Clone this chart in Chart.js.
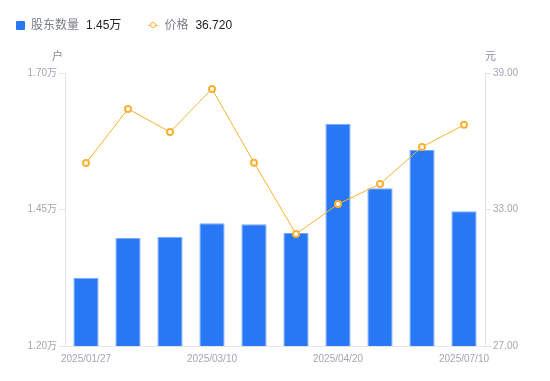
<!DOCTYPE html>
<html><head><meta charset="utf-8">
<script src="https://cdn.jsdelivr.net/npm/chart.js@4/dist/chart.umd.min.js"></script>
<style>
html,body{margin:0;padding:0;background:#fff;}
#wrap{position:relative;width:550px;height:381px;}
#legend{position:absolute;left:16px;top:17px;height:16px;font-family:"Liberation Sans","Noto Sans CJK SC",sans-serif;font-size:12px;line-height:16px;display:flex;align-items:center;white-space:nowrap;}
.item{display:flex;align-items:center;margin-right:27px;}
.sq{width:9px;height:9px;background:#2878f5;border-radius:1px;margin-right:6px;}
.ln{position:relative;width:10px;height:9px;margin-right:6px;}
.ln:before{content:"";position:absolute;left:0;right:0;top:4px;height:1px;background:#f8b133;}
.ln:after{content:"";position:absolute;left:1.5px;top:1px;width:4px;height:4px;border:1.5px solid #f8b133;border-radius:50%;background:#fff;}
.txt{display:inline-block;line-height:16px;}
.nm{color:#7b7e86;margin-right:7px;}
.vl{color:#222;}
</style></head>
<body><div id="wrap"><canvas id="c" width="550" height="381"></canvas>
<div id="legend"></div></div>
<script>
const categories = ["2025/01/27","2025/02/10","2025/02/24","2025/03/10","2025/03/20","2025/03/31","2025/04/20","2025/05/20","2025/06/20","2025/07/10"];
const shareholders = [1.325, 1.398, 1.400, 1.425, 1.423, 1.407, 1.607, 1.489, 1.559, 1.447];
const prices = [35.04, 37.42, 36.41, 38.30, 35.06, 31.92, 33.24, 34.12, 35.75, 36.72];
const shownTickIdx = [0, 3, 6, 9];
const leftTicks = [1.20, 1.45, 1.70];
const rightTicks = [27, 33, 39];

const FONT = '"Liberation Sans","Noto Sans CJK SC",sans-serif';
const TICK = '#a3a6b0';
const AXIS = '#e3e4e8';

document.getElementById('legend').innerHTML =
 '<div class="item"><div class="sq"></div><span class="txt"><span class="nm">股东数量</span><span class="vl">' + shareholders[shareholders.length-1].toFixed(2) + '万</span></span></div>' +
 '<div class="item"><div class="ln"></div><span class="txt"><span class="nm">价格</span><span class="vl">' + prices[prices.length-1].toFixed(3) + '</span></span></div>';

const unitPlugin = {
  id: 'units',
  afterDraw(chart) {
    const ctx = chart.ctx;
    const y = chart.scales.y, y1 = chart.scales.y1;
    ctx.save();
    ctx.font = '11px ' + FONT;
    ctx.fillStyle = '#8a8d96';
    ctx.textBaseline = 'middle';
    ctx.textAlign = 'right';
    ctx.fillText('户', y.right - 2, chart.chartArea.top - 16);
    ctx.textAlign = 'left';
    ctx.fillText('元', y1.left, chart.chartArea.top - 16);
    ctx.restore();
  }
};

new Chart(document.getElementById('c'), {
  data: {
    labels: categories,
    datasets: [
      { type: 'line', data: prices, yAxisID: 'y1', order: 0,
        borderColor: '#f8b133', borderWidth: 1, tension: 0,
        pointRadius: 3, pointBorderWidth: 2, pointBackgroundColor: '#fff', pointBorderColor: '#f8b133' },
      { type: 'bar', data: shareholders, yAxisID: 'y', order: 1,
        backgroundColor: '#2878f5', borderColor: '#7aaaf7', borderWidth: {top:1,left:1,right:1,bottom:0}, borderSkipped: false,
        barPercentage: 0.6, categoryPercentage: 1 }
    ]
  },
  options: {
    responsive: false, animation: false,
    layout: { padding: { left: 0, right: 0, top: 73, bottom: 0 } },
    plugins: { legend: { display: false }, tooltip: { enabled: false } },
    scales: {
      x: {
        afterFit(s) { s.height = 35; },
        grid: { display: true, drawOnChartArea: false, drawTicks: false },
        border: { display: true, color: AXIS },
        ticks: { autoSkip: false, maxRotation: 0, padding: 7, color: TICK, font: { size: 10, family: FONT },
          callback(v, i) { return shownTickIdx.includes(i) ? categories[i] : ''; } }
      },
      y: {
        position: 'left', min: leftTicks[0], max: leftTicks[leftTicks.length-1],
        afterFit(s) { s.width = 65; },
        afterBuildTicks(s) { s.ticks = leftTicks.map(v => ({ value: v })); },
        grid: { drawOnChartArea: false, tickLength: 6, color: AXIS },
        border: { display: true, color: AXIS },
        ticks: { padding: 2, color: TICK, font: { size: 10, family: FONT }, callback(v) { return v.toFixed(2) + '万'; } }
      },
      y1: {
        position: 'right', min: rightTicks[0], max: rightTicks[rightTicks.length-1],
        afterFit(s) { s.width = 65; },
        afterBuildTicks(s) { s.ticks = rightTicks.map(v => ({ value: v })); },
        grid: { drawOnChartArea: false, tickLength: 6, color: AXIS },
        border: { display: true, color: AXIS },
        ticks: { padding: 2, color: TICK, font: { size: 10, family: FONT }, callback(v) { return v.toFixed(2); } }
      }
    }
  },
  plugins: [unitPlugin]
});
</script></body></html>
